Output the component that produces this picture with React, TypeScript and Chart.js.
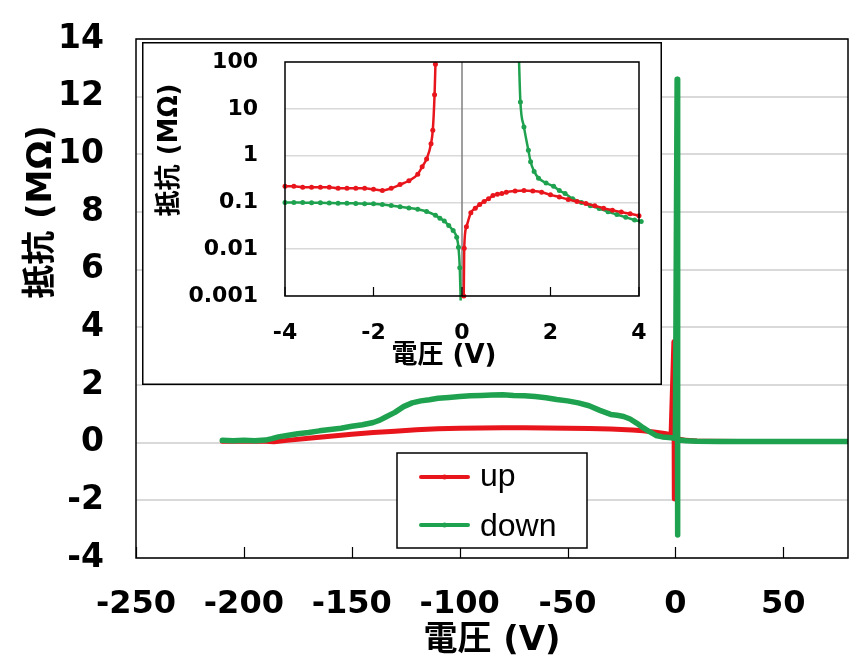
import React, { useEffect, useRef } from "react";
import { Chart, registerables } from "chart.js";
Chart.register(...registerables);

// ---------- data ----------
const seriesLabels = ["up", "down"];
const seriesColors = ["#e8161c", "#1fa24f"];
const xTitle = "電圧 (V)";
const yTitle = "抵抗 (MΩ)";

const mainXTicks = [-250, -200, -150, -100, -50, 0, 50];
const mainYTicks = [-4, -2, 0, 2, 4, 6, 8, 10, 12, 14];

const upV = [-210, -200, -190, -186, -180, -170, -160, -150, -140, -130, -120, -110, -100, -90, -80, -70, -60, -50, -40, -30, -20, -15, -10, -5, -2, -0.7, -0.5, 0, 2, 5, 10, 15, 30, 50, 80];
const upR = [0.05, 0.05, 0.05, 0.03, 0.08, 0.15, 0.22, 0.29, 0.35, 0.4, 0.45, 0.48, 0.5, 0.51, 0.52, 0.52, 0.51, 0.5, 0.49, 0.47, 0.44, 0.41, 0.37, 0.32, 0.28, 3.5, -1.95, 0.01, 0.12, 0.08, 0.06, 0.05, 0.04, 0.04, 0.04];

const downV = [-210, -205, -200, -195, -190, -187, -184, -180, -175, -170, -165, -160, -155, -150, -145, -140, -137, -134, -130, -126, -122, -118, -114, -110, -105, -100, -95, -90, -85, -80, -75, -70, -65, -60, -55, -50, -45, -40, -35, -30, -27, -24, -21, -18, -15, -12, -9, -6, -3, 0, 0.8, 0.9, 1.2, 5, 10, 20, 40, 60, 80];
const downR = [0.08, 0.07, 0.08, 0.07, 0.09, 0.14, 0.2, 0.25, 0.31, 0.35, 0.41, 0.46, 0.5, 0.57, 0.62, 0.7, 0.78, 0.9, 1.05, 1.25, 1.38, 1.45, 1.49, 1.54, 1.57, 1.6, 1.63, 1.64, 1.65, 1.66, 1.64, 1.63, 1.6, 1.56, 1.5, 1.45, 1.38, 1.28, 1.12, 0.98, 0.95, 0.91, 0.82, 0.68, 0.52, 0.38, 0.25, 0.2, 0.18, 0.15, 12.6, -3.2, 0.1, 0.07, 0.05, 0.04, 0.04, 0.04, 0.04];

const insetXTicks = [-4, -2, 0, 2, 4];
const insetYTicks = [0.001, 0.01, 0.1, 1, 10, 100];

const insetUpV = [-4, -3.8, -3.6, -3.4, -3.2, -3.0, -2.8, -2.6, -2.4, -2.2, -2.0, -1.8, -1.6, -1.4, -1.2, -1.0, -0.9, -0.8, -0.7, -0.66, -0.62, -0.6, -0.3, 0.04, 0.05, 0.1, 0.2, 0.3, 0.4, 0.5, 0.6, 0.7, 0.8, 0.9, 1.0, 1.2, 1.4, 1.6, 1.8, 2.0, 2.2, 2.4, 2.6, 2.8, 3.0, 3.2, 3.4, 3.6, 3.8, 4.0];
const insetUpR = [0.22, 0.22, 0.21, 0.21, 0.21, 0.21, 0.2, 0.2, 0.2, 0.2, 0.19, 0.18, 0.2, 0.24, 0.29, 0.4, 0.58, 0.85, 1.8, 3.5, 20, 90, null, 0.001, 0.0105, 0.03, 0.06, 0.075, 0.09, 0.105, 0.12, 0.14, 0.15, 0.155, 0.165, 0.175, 0.18, 0.175, 0.165, 0.145, 0.13, 0.115, 0.105, 0.095, 0.085, 0.075, 0.068, 0.062, 0.057, 0.052];

const insetDownV = [-4, -3.8, -3.6, -3.4, -3.2, -3.0, -2.8, -2.6, -2.4, -2.2, -2.0, -1.8, -1.6, -1.4, -1.2, -1.0, -0.8, -0.6, -0.5, -0.4, -0.3, -0.2, -0.12, -0.08, -0.05, -0.03, 0.6, 1.28, 1.32, 1.4, 1.5, 1.55, 1.63, 1.73, 1.9, 2.07, 2.2, 2.33, 2.5, 2.7, 2.9, 3.1, 3.3, 3.5, 3.7, 3.9, 4.05];
const insetDownR = [0.1, 0.1, 0.099, 0.098, 0.098, 0.097, 0.096, 0.096, 0.095, 0.094, 0.094, 0.09, 0.086, 0.081, 0.076, 0.071, 0.064, 0.053, 0.046, 0.04, 0.032, 0.025, 0.018, 0.011, 0.004, 0.0008, null, 200, 14, 4.1, 1.3, 0.74, 0.46, 0.33, 0.26, 0.22, 0.18, 0.155, 0.12, 0.1, 0.085, 0.074, 0.063, 0.055, 0.048, 0.042, 0.039];

// ---------- helpers ----------
const pts = (xs: number[], ys: (number | null)[]) => xs.map((x, i) => ({ x, y: ys[i] }));
const tickFont = (size: number) => ({ family: "'DejaVu Sans', sans-serif", size, weight: "bold" as const });
const TITLE_FAMILY = "'DejaVu Sans', 'Noto Sans CJK JP', sans-serif";

const fixSize = (prop: "width" | "height", size: number) => (s: any) => {
  s[prop] = size;
  s.paddingTop = 0;
  s.paddingBottom = 0;
  s.paddingLeft = 0;
  s.paddingRight = 0;
};

function drawText(ctx: CanvasRenderingContext2D, text: string, x: number, y: number, font: string, rotate = false) {
  ctx.save();
  ctx.font = font;
  ctx.fillStyle = "#000";
  ctx.textAlign = "center";
  ctx.textBaseline = "middle";
  ctx.translate(x, y);
  if (rotate) ctx.rotate(-Math.PI / 2);
  ctx.fillText(text, 0, 0);
  ctx.restore();
}

export default function App() {
  const mainRef = useRef<HTMLCanvasElement>(null);
  const insetRef = useRef<HTMLCanvasElement>(null);

  useEffect(() => {
    const mainDecor = {
      id: "mainDecor",
      beforeDraw(chart: any) {
        const ctx = chart.ctx;
        ctx.save();
        ctx.fillStyle = "#fff";
        ctx.fillRect(0, 0, chart.width, chart.height);
        ctx.restore();
      },
      afterDatasetsDraw(chart: any) {
        const { ctx, chartArea: a, scales } = chart;
        ctx.save();
        ctx.strokeStyle = "#000";
        ctx.lineWidth = 1.5;
        ctx.strokeRect(a.left, a.top, a.right - a.left, a.bottom - a.top);
        ctx.beginPath();
        for (const v of mainXTicks) {
          const px = Math.round(scales.x.getPixelForValue(v)) + 0.5;
          ctx.moveTo(px, a.bottom);
          ctx.lineTo(px, a.bottom - 11);
        }
        ctx.lineWidth = 1.2;
        ctx.stroke();
        ctx.restore();
      },
      afterDraw(chart: any) {
        const ctx = chart.ctx as CanvasRenderingContext2D;
        const a = chart.chartArea;
        // legend
        ctx.save();
        ctx.fillStyle = "#fff";
        ctx.fillRect(397, 453, 190, 95);
        ctx.strokeStyle = "#000";
        ctx.lineWidth = 1.5;
        ctx.strokeRect(397, 453, 190, 95);
        const rows = [477, 525];
        const bases = [486, 536];
        seriesLabels.forEach((lab, i) => {
          ctx.strokeStyle = seriesColors[i];
          ctx.lineWidth = 4;
          ctx.lineCap = "round";
          ctx.beginPath();
          ctx.moveTo(421, rows[i]);
          ctx.lineTo(468, rows[i]);
          ctx.stroke();
          ctx.fillStyle = seriesColors[i];
          ctx.beginPath();
          ctx.arc(444.5, rows[i], 2.5, 0, Math.PI * 2);
          ctx.fill();
          ctx.fillStyle = "#000";
          ctx.font = "32px 'Liberation Sans', sans-serif";
          ctx.textAlign = "left";
          ctx.textBaseline = "alphabetic";
          ctx.fillText(lab, 480, bases[i]);
        });
        ctx.restore();
        drawText(ctx, xTitle, (a.left + a.right) / 2, 641, `bold 34px ${TITLE_FAMILY}`);
        drawText(ctx, yTitle, 42, 212, `bold 34px ${TITLE_FAMILY}`, true);
      },
    };

    const main = new Chart(mainRef.current!, {
      type: "line",
      data: {
        datasets: [
          { label: seriesLabels[0], data: pts(upV, upR), borderColor: seriesColors[0], backgroundColor: seriesColors[0], borderWidth: 5, pointRadius: 0, tension: 0, order: 1, borderJoinStyle: "round", borderCapStyle: "round" },
          { label: seriesLabels[1], data: pts(downV, downR), borderColor: seriesColors[1], backgroundColor: seriesColors[1], borderWidth: 5.5, pointRadius: 0, tension: 0, order: 0, borderJoinStyle: "round", borderCapStyle: "round" },
        ],
      },
      options: {
        responsive: false,
        animation: false,
        layout: { padding: { left: 0, top: 39, right: 13, bottom: 0 } },
        plugins: { legend: { display: false }, tooltip: { enabled: false } },
        scales: {
          x: {
            type: "linear",
            min: -250,
            max: 80,
            afterBuildTicks: (s: any) => { s.ticks = mainXTicks.map((v) => ({ value: v })); },
            afterFit: fixSize("height", 114),
            grid: { display: false, drawTicks: false },
            border: { display: false },
            ticks: { padding: 27, color: "#000", font: tickFont(32), maxRotation: 0, autoSkip: false },
          },
          y: {
            type: "linear",
            min: -4,
            max: 14,
            afterBuildTicks: (s: any) => { s.ticks = mainYTicks.map((v) => ({ value: v })); },
            afterFit: fixSize("width", 136),
            grid: { color: "#d9d9d9", lineWidth: 2, drawTicks: false },
            border: { display: false },
            ticks: { padding: 32, color: "#000", font: tickFont(33), autoSkip: false },
          },
        },
      } as any,
      plugins: [mainDecor],
    });

    const insetDecor = {
      id: "insetDecor",
      beforeDraw(chart: any) {
        const ctx = chart.ctx;
        ctx.save();
        ctx.fillStyle = "#fff";
        ctx.fillRect(0, 0, chart.width, chart.height);
        ctx.strokeStyle = "#000";
        ctx.lineWidth = 1.5;
        ctx.strokeRect(0.75, 0.75, chart.width - 1.5, chart.height - 1.5);
        ctx.restore();
      },
      beforeDatasetsDraw(chart: any) {
        const { ctx, chartArea: a, scales } = chart;
        ctx.save();
        const px = scales.x.getPixelForValue(0);
        ctx.strokeStyle = "#7f7f7f";
        ctx.lineWidth = 1.5;
        ctx.beginPath();
        ctx.moveTo(px, a.top);
        ctx.lineTo(px, a.bottom);
        ctx.stroke();
        ctx.restore();
      },
      afterDatasetsDraw(chart: any) {
        const { ctx, chartArea: a, scales } = chart;
        ctx.save();
        ctx.strokeStyle = "#000";
        ctx.lineWidth = 1.5;
        ctx.strokeRect(a.left, a.top, a.right - a.left, a.bottom - a.top);
        ctx.beginPath();
        for (const v of insetXTicks) {
          const px = scales.x.getPixelForValue(v);
          ctx.moveTo(px, a.bottom);
          ctx.lineTo(px, a.bottom - 9);
        }
        ctx.lineWidth = 1.2;
        ctx.stroke();
        ctx.restore();
      },
      afterDraw(chart: any) {
        const ctx = chart.ctx as CanvasRenderingContext2D;
        drawText(ctx, xTitle, 302, 314, `bold 26px ${TITLE_FAMILY}`);
        drawText(ctx, yTitle, 28, 108, `bold 26px ${TITLE_FAMILY}`, true);
      },
    };

    const insetDs = (i: number, xs: number[], ys: (number | null)[]) => ({
      label: seriesLabels[i],
      data: pts(xs, ys),
      borderColor: seriesColors[i],
      backgroundColor: seriesColors[i],
      borderWidth: 2.5,
      pointRadius: 2.5,
      pointBorderWidth: 0,
      pointBackgroundColor: seriesColors[i],
      cubicInterpolationMode: "monotone",
      spanGaps: false,
      clip: { left: 5, top: 0, right: 5, bottom: 10 },
    });

    const inset = new Chart(insetRef.current!, {
      type: "line",
      data: {
        datasets: [insetDs(0, insetUpV, insetUpR), insetDs(1, insetDownV, insetDownR)],
      },
      options: {
        responsive: false,
        animation: false,
        layout: { padding: { left: 0, top: 20, right: 23, bottom: 0 } },
        plugins: { legend: { display: false }, tooltip: { enabled: false } },
        scales: {
          x: {
            type: "linear",
            min: -4,
            max: 4,
            afterBuildTicks: (s: any) => { s.ticks = insetXTicks.map((v) => ({ value: v })); },
            afterFit: fixSize("height", 89),
            grid: { display: false, drawTicks: false },
            border: { display: false },
            ticks: { padding: 24, color: "#000", font: tickFont(22), maxRotation: 0, autoSkip: false },
          },
          y: {
            type: "logarithmic",
            min: 0.001,
            max: 100,
            afterBuildTicks: (s: any) => { s.ticks = insetYTicks.map((v) => ({ value: v })); },
            afterFit: fixSize("width", 143),
            grid: { color: "#d9d9d9", lineWidth: 1.5, drawTicks: false },
            border: { display: false },
            ticks: { padding: 27, color: "#000", font: tickFont(22), autoSkip: false, callback: (v: any) => String(v) },
          },
        },
      } as any,
      plugins: [insetDecor],
    });

    return () => {
      main.destroy();
      inset.destroy();
    };
  }, []);

  return (
    <div style={{ position: "absolute", left: 0, top: 0, width: 861, height: 672, background: "#fff" }}>
      <canvas ref={mainRef} width={861} height={672} style={{ position: "absolute", left: 0, top: 0 }} />
      <canvas ref={insetRef} width={520} height={343} style={{ position: "absolute", left: 142, top: 42 }} />
    </div>
  );
}
